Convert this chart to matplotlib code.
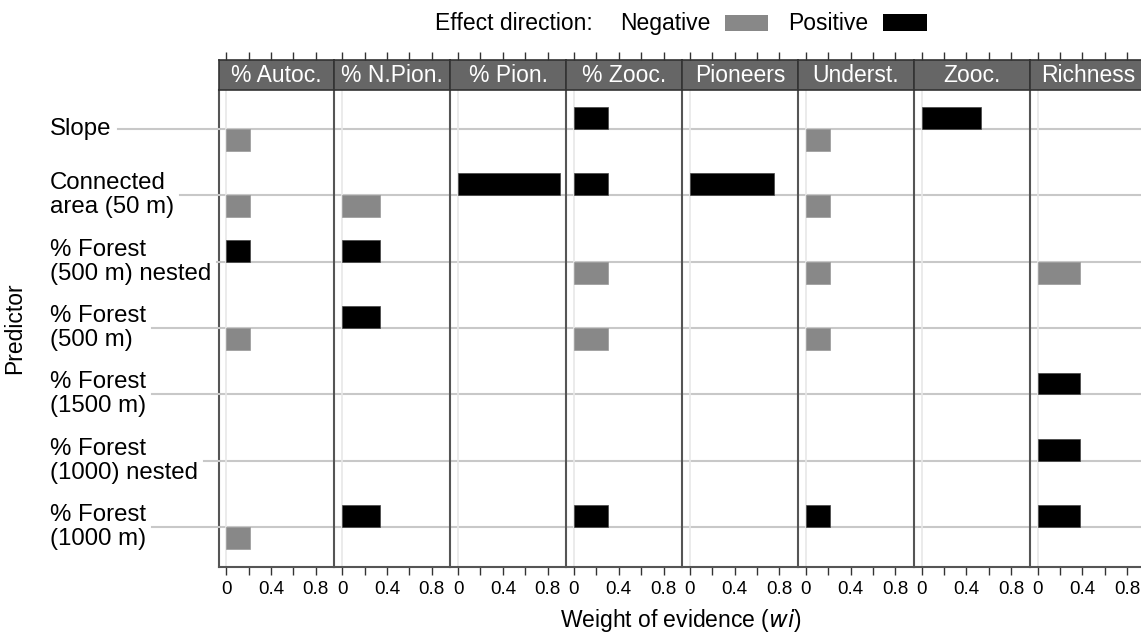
import matplotlib
matplotlib.use("Agg")
import matplotlib.pyplot as plt
import numpy as np
from matplotlib.patches import Rectangle
from matplotlib.lines import Line2D
from matplotlib.transforms import blended_transform_factory

plt.rcParams['font.family'] = ['Liberation Sans', 'DejaVu Sans']

# Data (nan = no bar)
responses = ['% Autoc.', '% N.Pion.', '% Pion.', '% Zooc.',
             'Pioneers', 'Underst.', 'Zooc.', 'Richness']
predictors = ['Slope', 'Connected\narea (50 m)', '% Forest\n(500 m) nested',
              '% Forest\n(500 m)', '% Forest\n(1500 m)', '% Forest\n(1000) nested',
              '% Forest\n(1000 m)']
nan = np.nan
# one list per response, values per predictor
wi_positive = [
    [nan, nan, 0.21, nan, nan, nan, nan],
    [nan, nan, 0.34, 0.34, nan, nan, 0.34],
    [nan, 0.91, nan, nan, nan, nan, nan],
    [0.30, 0.30, nan, nan, nan, nan, 0.30],
    [nan, 0.75, nan, nan, nan, nan, nan],
    [nan, nan, nan, nan, nan, nan, 0.22],
    [0.53, nan, nan, nan, nan, nan, nan],
    [nan, nan, nan, nan, 0.375, 0.375, 0.375],
]
wi_negative = [
    [0.21, 0.21, nan, 0.21, nan, nan, 0.21],
    [nan, 0.34, nan, nan, nan, nan, nan],
    [nan, nan, nan, nan, nan, nan, nan],
    [nan, nan, 0.30, 0.30, nan, nan, nan],
    [nan, nan, nan, nan, nan, nan, nan],
    [0.22, 0.22, 0.22, 0.22, nan, nan, nan],
    [nan, nan, nan, nan, nan, nan, nan],
    [nan, nan, 0.375, nan, nan, nan, nan],
]
x_ticks = [0, 0.2, 0.4, 0.6, 0.8]
x_tick_labels = ['0', '', '0.4', '', '0.8']

W, H = 1141, 634
fig = plt.figure(figsize=(W / 100, H / 100), dpi=100)

neg_color = '#888888'
pos_color = '#000000'
panel_edge = '#555555'
grid_color = '#c8c8c8'

panel_left = 218.5
panel_w = 115.9
panel_top = 90
panel_bottom = 567
strip_top = 60
bar_h = 0.33
y = np.arange(len(predictors))

axes = []
for i, name in enumerate(responses):
    x0 = (panel_left + i * panel_w) / W
    ax = fig.add_axes([x0, 1 - panel_bottom / H, panel_w / W,
                       (panel_bottom - panel_top) / H])
    ax.set_xlim(-0.069, 0.966)
    ax.set_ylim(6.6, -0.588)
    for yy in y:
        ax.axhline(yy, color=grid_color, lw=1.5, zorder=0)
    ax.axvline(0, color='#e8e8e8', lw=1.2, zorder=0)
    ax.barh(y - bar_h / 2, wi_positive[i], height=bar_h, color=pos_color,
            edgecolor='#444444', linewidth=0.5, zorder=2)
    ax.barh(y + bar_h / 2, wi_negative[i], height=bar_h, color=neg_color,
            edgecolor='#999999', linewidth=0.5, zorder=2)
    ax.set_yticks([])
    ax.set_xticks(x_ticks)
    ax.set_xticklabels(x_tick_labels, fontsize=13.5)
    ax.tick_params(axis='x', length=6, width=1, color='#333333', pad=4)
    for s in ['top', 'right']:
        ax.spines[s].set_visible(False)
    ax.spines['left'].set_color(panel_edge)
    ax.spines['left'].set_linewidth(1.5)
    ax.spines['bottom'].set_color(panel_edge)
    ax.spines['bottom'].set_linewidth(1.5)
    axes.append(ax)

    # strip with the response name
    sx = fig.add_axes([x0, 1 - panel_top / H, panel_w / W,
                       (panel_top - strip_top) / H])
    sx.set_facecolor('#666666')
    sx.set_xlim(ax.get_xlim())
    sx.set_ylim(0, 1)
    sx.set_yticks([])
    sx.set_xticks(x_ticks)
    sx.set_xticklabels([])
    sx.xaxis.set_ticks_position('top')
    sx.tick_params(axis='x', length=6, width=1, color='#333333')
    for s in sx.spines.values():
        s.set_color('#333333')
        s.set_linewidth(1.2)
    sx.text(0.5, 0.48, name, transform=sx.transAxes, ha='center', va='center',
            color='white', fontsize=16.5)

# predictor labels with gray leader lines
ax0 = axes[0]
tr = blended_transform_factory(fig.transFigure, ax0.transData)
labels = []
for yy, p in zip(y, predictors):
    t = fig.text(50 / W, yy, p, transform=tr, ha='left', va='center',
                 fontsize=17.3, linespacing=1.12)
    labels.append(t)
fig.canvas.draw()
for yy, t in zip(y, labels):
    bb = t.get_window_extent()
    fig.add_artist(Line2D([(bb.x1 + 6) / W, panel_left / W], [yy, yy],
                          transform=tr, color=grid_color, lw=1.5))

# axis titles
fig.text(15 / W, 1 - 328 / H, 'Predictor', rotation=90, ha='center',
         va='center', fontsize=16.5)
fig.text(681 / W, 1 - 621 / H, r'Weight of evidence ($\mathit{wi}$)',
         ha='center', va='center', fontsize=16.5)

# legend
base = 1 - 30 / H
fig.text(435 / W, base, 'Effect direction:', ha='left', va='baseline',
         fontsize=16.5)
fig.text(620 / W, base, 'Negative', ha='left', va='baseline', fontsize=16.5)
fig.add_artist(Rectangle((725 / W, 1 - 31 / H), 43 / W, 16 / H,
                         transform=fig.transFigure, facecolor=neg_color,
                         edgecolor='none'))
fig.text(788 / W, base, 'Positive', ha='left', va='baseline', fontsize=16.5)
fig.add_artist(Rectangle((883 / W, 1 - 31 / H), 44 / W, 17 / H,
                         transform=fig.transFigure, facecolor=pos_color,
                         edgecolor='none'))

fig.savefig('out.png', dpi=100)
